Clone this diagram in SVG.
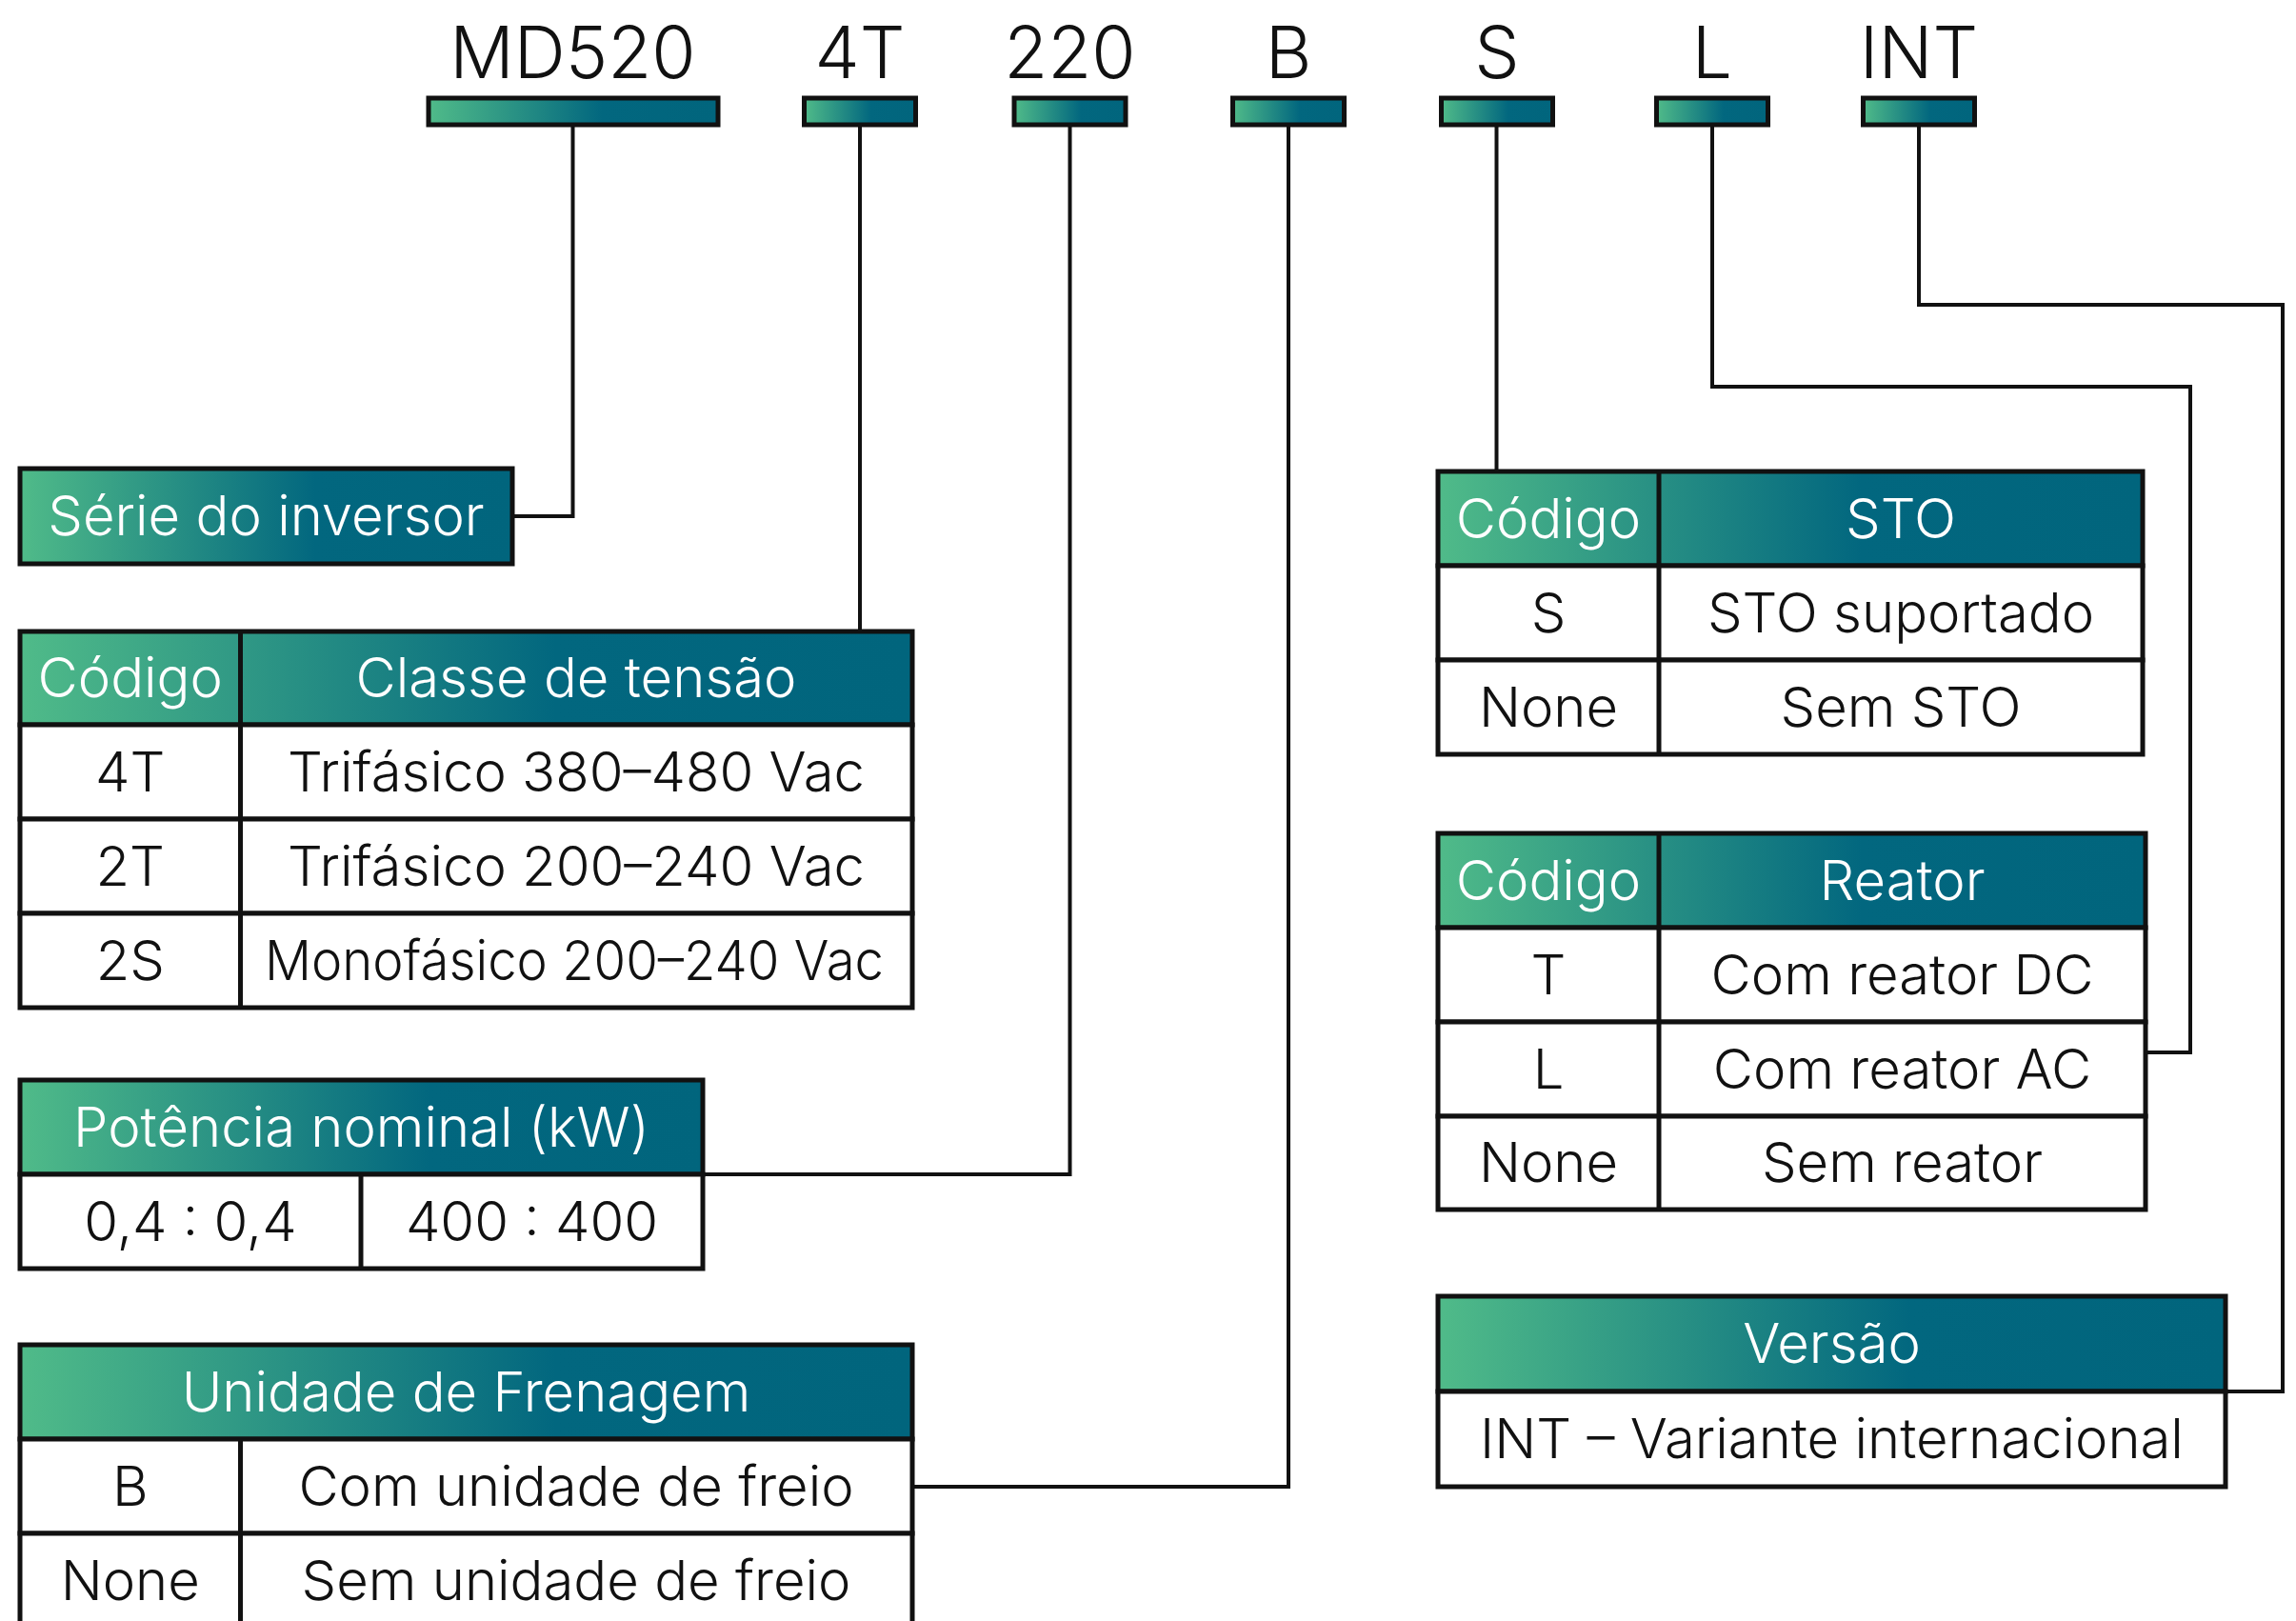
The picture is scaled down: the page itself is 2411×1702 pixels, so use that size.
<svg xmlns="http://www.w3.org/2000/svg" width="2411" height="1702" viewBox="0 0 2411 1702">
<defs>
<linearGradient id="g" x1="0" y1="0" x2="1" y2="0">
<stop offset="0" stop-color="#50bb89"/>
<stop offset="0.6" stop-color="#02677f"/>
<stop offset="1" stop-color="#01657d"/>
</linearGradient>
<style>
.box{fill:#fff;stroke:#111;stroke-width:5}
.hdr{fill:url(#g);stroke:#111;stroke-width:5}
.ln{stroke:#111;stroke-width:5;fill:none}
.con{stroke:#111;stroke-width:4;fill:none}
text{font-family:Inter,"Liberation Sans",sans-serif;font-weight:300;text-anchor:middle}
.w{fill:#fff;font-size:58px}
.k{fill:#111;font-size:58px}
.top{fill:#111;font-size:75px}
</style>
</defs>
<rect width="2411" height="1702" fill="#fff"/>

<g id="connectors">
<path class="con" d="M601.5 133 V542 H538"/>
<path class="con" d="M903 133 V663"/>
<path class="con" d="M1123.5 133 V1233 H738"/>
<path class="con" d="M1353 133 V1561 H958"/>
<path class="con" d="M1571.5 133 V495"/>
<path class="con" d="M1798 133 V406 H2300 V1105 H2253"/>
<path class="con" d="M2015 133 V320 H2397 V1461 H2337"/>
</g>

<g id="code-md520">
<text class="top" x="601.5" y="82">MD520</text>
<rect class="hdr" x="450" y="103" width="304" height="28"/>
</g>
<g id="code-4t">
<text class="top" x="903" y="82">4T</text>
<rect class="hdr" x="844.5" y="103" width="117" height="28"/>
</g>
<g id="code-220">
<text class="top" x="1123.5" y="82">220</text>
<rect class="hdr" x="1065" y="103" width="117" height="28"/>
</g>
<g id="code-b">
<text class="top" x="1353" y="82">B</text>
<rect class="hdr" x="1294.5" y="103" width="117" height="28"/>
</g>
<g id="code-s">
<text class="top" x="1572" y="82">S</text>
<rect class="hdr" x="1513.5" y="103" width="117" height="28"/>
</g>
<g id="code-l">
<text class="top" x="1798" y="82">L</text>
<rect class="hdr" x="1739.5" y="103" width="117" height="28"/>
</g>
<g id="code-int">
<text class="top" x="2015" y="82">INT</text>
<rect class="hdr" x="1956.5" y="103" width="117" height="28"/>
</g>

<g id="serie">
<rect class="hdr" x="21" y="492" width="517" height="100"/>
<text class="w" x="279.5" y="562">Série do inversor</text>
</g>

<g id="tabela-tensao">
<rect class="hdr" x="21" y="663" width="937" height="98"/>
<rect class="box" x="21" y="761" width="937" height="99"/>
<rect class="box" x="21" y="860" width="937" height="99"/>
<rect class="box" x="21" y="959" width="937" height="99"/>
<line class="ln" x1="252.5" y1="663" x2="252.5" y2="1058"/>
<text class="w" x="136.75" y="732">Código</text>
<text class="w" x="605" y="732">Classe de tensão</text>
<text class="k" x="136.75" y="830.5">4T</text>
<text class="k" x="605" y="830.5">Trifásico 380–480 Vac</text>
<text class="k" x="136.75" y="929.5">2T</text>
<text class="k" x="605" y="929.5">Trifásico 200–240 Vac</text>
<text class="k" x="136.75" y="1028.5">2S</text>
<text class="k" x="603" y="1028.5" textLength="650" lengthAdjust="spacingAndGlyphs">Monofásico 200–240 Vac</text>
</g>

<g id="tabela-potencia">
<rect class="hdr" x="21" y="1134" width="717" height="99"/>
<rect class="box" x="21" y="1233" width="717" height="99"/>
<line class="ln" x1="379" y1="1233" x2="379" y2="1332"/>
<text class="w" x="379.5" y="1203.5">Potência nominal (kW)</text>
<text class="k" x="200" y="1302.5">0,4 : 0,4</text>
<text class="k" x="558.5" y="1302.5">400 : 400</text>
</g>

<g id="tabela-frenagem">
<rect class="hdr" x="21" y="1412" width="937" height="99"/>
<rect class="box" x="21" y="1511" width="937" height="99"/>
<rect class="box" x="21" y="1610" width="937" height="99"/>
<line class="ln" x1="252.5" y1="1511" x2="252.5" y2="1709"/>
<text class="w" x="489.5" y="1481.5">Unidade de Frenagem</text>
<text class="k" x="136.75" y="1580.5">B</text>
<text class="k" x="605" y="1580.5">Com unidade de freio</text>
<text class="k" x="136.75" y="1679.5">None</text>
<text class="k" x="605" y="1679.5">Sem unidade de freio</text>
</g>

<g id="tabela-sto">
<rect class="hdr" x="1510" y="495" width="740" height="99"/>
<rect class="box" x="1510" y="594" width="740" height="99"/>
<rect class="box" x="1510" y="693" width="740" height="99"/>
<line class="ln" x1="1742" y1="495" x2="1742" y2="792"/>
<text class="w" x="1626" y="564.5">Código</text>
<text class="w" x="1996" y="564.5">STO</text>
<text class="k" x="1626" y="663.5">S</text>
<text class="k" x="1996" y="663.5">STO suportado</text>
<text class="k" x="1626" y="762.5">None</text>
<text class="k" x="1996" y="762.5">Sem STO</text>
</g>

<g id="tabela-reator">
<rect class="hdr" x="1510" y="875" width="743" height="99"/>
<rect class="box" x="1510" y="974" width="743" height="99"/>
<rect class="box" x="1510" y="1073" width="743" height="99"/>
<rect class="box" x="1510" y="1172" width="743" height="98"/>
<line class="ln" x1="1742" y1="875" x2="1742" y2="1270"/>
<text class="w" x="1626" y="944.5">Código</text>
<text class="w" x="1997.5" y="944.5">Reator</text>
<text class="k" x="1626" y="1043.5">T</text>
<text class="k" x="1997.5" y="1043.5">Com reator DC</text>
<text class="k" x="1626" y="1142.5">L</text>
<text class="k" x="1997.5" y="1142.5">Com reator AC</text>
<text class="k" x="1626" y="1241">None</text>
<text class="k" x="1997.5" y="1241">Sem reator</text>
</g>

<g id="tabela-versao">
<rect class="hdr" x="1510" y="1361" width="827" height="100"/>
<rect class="box" x="1510" y="1461" width="827" height="100"/>
<text class="w" x="1923.5" y="1431">Versão</text>
<text class="k" x="1923.5" y="1531">INT – Variante internacional</text>
</g>
</svg>
